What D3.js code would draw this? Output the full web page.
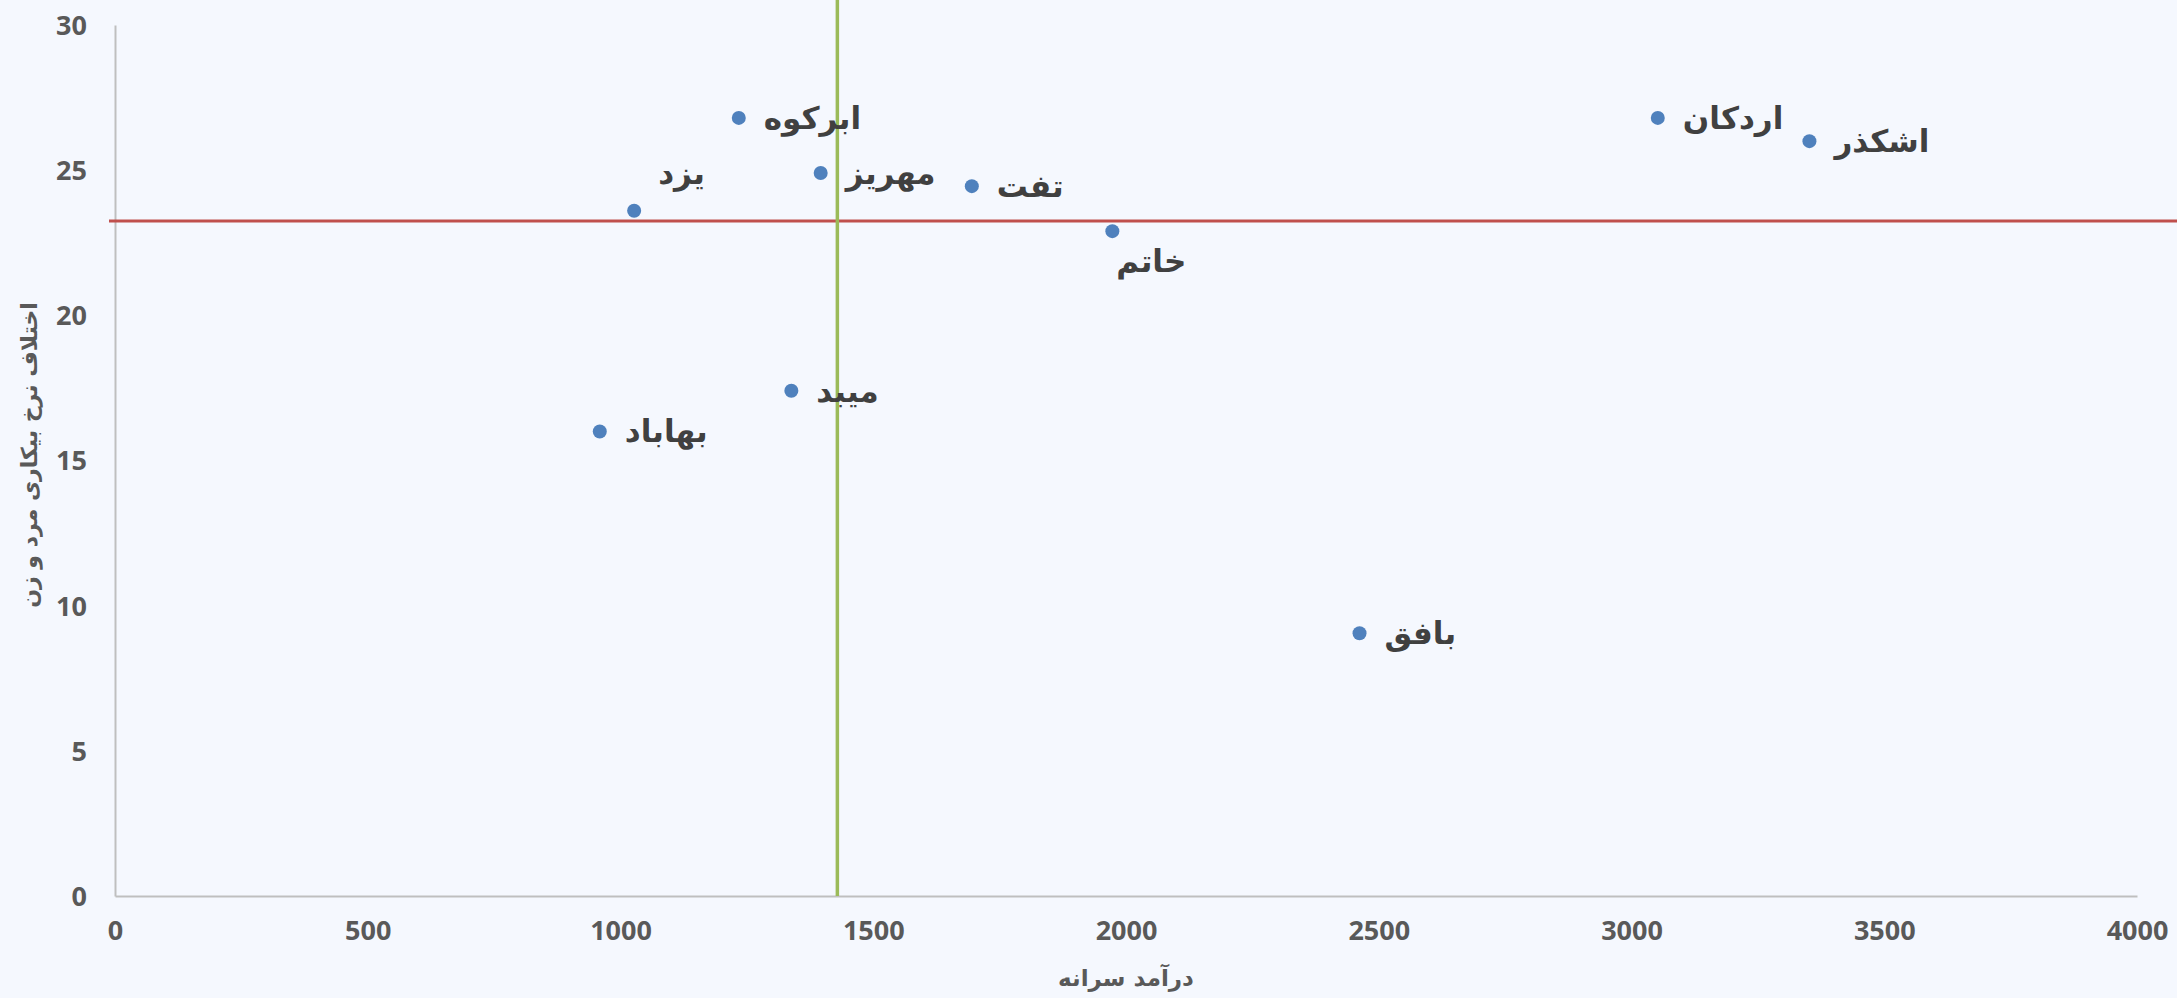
<!DOCTYPE html>
<html><head><meta charset="utf-8">
<script src="https://cdn.jsdelivr.net/npm/d3@7"></script>
<style>
html,body{margin:0;padding:0;background:#f5f8fe;}
svg{display:block;}
</style></head>
<body>
<svg id="chart" width="2177" height="998"></svg>
<script>
// ---- data ----
const cities   = ["یزد","ابرکوه","مهریز","تفت","خاتم","اردکان","اشکذر","میبد","بهاباد","بافق"];
const income   = [1027, 1234, 1396, 1695, 1973, 3052, 3352, 1338, 959, 2462];
const gapRate  = [23.6, 26.8, 24.9, 24.45, 22.9, 26.8, 26.0, 17.4, 16.0, 9.05];
const labelPos = ["above","right","right","right","below","right","right","right","right","right"];
const meanIncome = 1429;
const meanGap = 23.25;
const xTicks = [0,500,1000,1500,2000,2500,3000,3500,4000];
const yTicks = [0,5,10,15,20,25,30];
const xTitle = "درآمد سرانه";
const yTitle = "اختلاف نرخ بیکاری مرد و زن";

const W = 2177, H = 998;
const m = {left:115, right:40, top:25, bottom:102};
const svg = d3.select("#chart");
svg.append("rect").attr("width",W).attr("height",H).attr("fill","#f5f8fe");

const x = d3.scaleLinear().domain([0,4000]).range([m.left, W-m.right]);
const y = d3.scaleLinear().domain([0,30]).range([H-m.bottom, m.top]);

const tickFont = "'Open Sans','DejaVu Sans',sans-serif";
const arFont = "'DejaVu Sans','Noto Sans',sans-serif";

// axes
const xAxis = svg.append("g").attr("transform",`translate(0,${y(0)})`)
  .call(d3.axisBottom(x).tickValues(xTicks).tickSize(0).tickPadding(25).tickFormat(d3.format("d")));
const yAxis = svg.append("g").attr("transform",`translate(${x(0)},0)`)
  .call(d3.axisLeft(y).tickValues(yTicks).tickSize(0).tickPadding(28).tickFormat(d3.format("d")));
[xAxis,yAxis].forEach(a=>{
  a.select(".domain").attr("stroke","#bfbfbf").attr("stroke-width",2);
  a.selectAll("text").attr("fill","#595959").attr("font-family",tickFont)
   .attr("font-weight","bold").attr("font-size",27);
});
xAxis.selectAll("text").attr("dy","0.71em");
yAxis.selectAll("text").attr("dy","0.35em");

// reference lines
svg.append("line")
  .attr("x1", x(0)-6).attr("x2", W)
  .attr("y1", y(meanGap)).attr("y2", y(meanGap))
  .attr("stroke","#c0504d").attr("stroke-width",3);
svg.append("line")
  .attr("x1", x(meanIncome)).attr("x2", x(meanIncome))
  .attr("y1", 0).attr("y2", y(0))
  .attr("stroke","#9bbb59").attr("stroke-width",3.5);

// points
const pts = cities.map((c,i)=>({name:c, inc:income[i], gap:gapRate[i], pos:labelPos[i]}));
svg.append("g").selectAll("circle").data(pts).join("circle")
  .attr("cx",d=>x(d.inc)).attr("cy",d=>y(d.gap)).attr("r",7)
  .attr("fill","#4f81bd");

// labels
const off = {right:[25,0], above:[24,-38], below:[4,30]};
svg.append("g").selectAll("text").data(pts).join("text")
  .attr("x",d=>x(d.inc)+off[d.pos][0])
  .attr("y",d=>y(d.gap)+off[d.pos][1])
  .attr("dominant-baseline","central")
  .attr("text-anchor","start")
  .attr("font-family",arFont).attr("font-weight","bold").attr("font-size",31)
  .attr("fill","#404040")
  .text(d=>d.name);

// axis titles
svg.append("text").attr("x",(x(0)+x(4000))/2).attr("y",978)
  .attr("text-anchor","middle").attr("dominant-baseline","central")
  .attr("font-family",arFont).attr("font-size",23).attr("font-weight","bold").attr("fill","#595959")
  .text(xTitle);
svg.append("text").attr("transform",`translate(29,455) rotate(-90)`)
  .attr("text-anchor","middle").attr("dominant-baseline","central")
  .attr("font-family",arFont).attr("font-size",22).attr("font-weight","bold").attr("fill","#595959")
  .text(yTitle);
</script>
</body></html>
